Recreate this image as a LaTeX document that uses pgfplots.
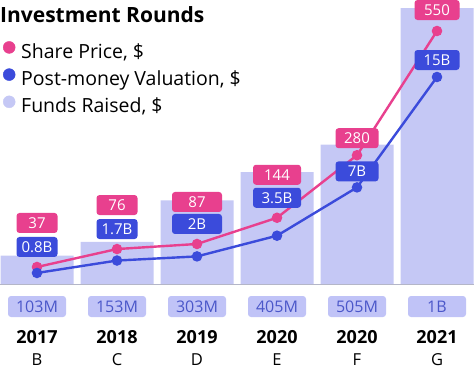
\documentclass[border=0pt]{standalone}
\usepackage{pgfplots}
\pgfplotsset{compat=1.18}
\usepackage{fontspec}
\setmainfont{Open Sans}
\definecolor{pinkc}{HTML}{E8408E}
\definecolor{bluec}{HTML}{3B4BDB}
\definecolor{barc}{HTML}{C5C8F5}
\definecolor{lblbox}{HTML}{C0C3F7}
\definecolor{lbltxt}{HTML}{4B57C9}
\definecolor{basec}{HTML}{B4B6C8}
\tikzset{
  pbox/.style={rounded corners=3pt, fill=pinkc, text=white, inner sep=0pt, minimum height=20pt, text height=10.7pt, text depth=0pt, anchor=center, font=\fontsize{15}{15}\selectfont},
  bbox/.style={pbox, fill=bluec},
  lbox/.style={rounded corners=3pt, fill=lblbox, text=lbltxt, inner sep=0pt, minimum height=21pt, minimum width=58pt, text height=11.4pt, text depth=0pt, anchor=center, font=\fontsize{16}{16}\selectfont},
}
\newcommand{\collabel}[4]{%
  \node[lbox] at ([yshift=-22.5pt]axis cs:#1,0) {#2};
  \node[anchor=base, inner sep=0pt, font=\bfseries\fontsize{18}{18}\selectfont] at ([yshift=-59pt]axis cs:#1,0) {#3};
  \node[anchor=base, inner sep=0pt, font=\fontsize{16.5}{16.5}\selectfont] at ([yshift=-81pt]axis cs:#1,0) {#4};
}
\begin{document}
\begin{tikzpicture}
\pgfplotsset{common/.style={scale only axis, width=474pt, height=284pt, at={(0pt,100pt)}, anchor=south west, xmin=-0.4625, xmax=5.4625, axis lines=none, clip=false}}
% Funds raised (bars)
\begin{axis}[common, ymin=0, ymax=1029,
  legend style={at={(0,0.8556)}, anchor=north west, draw=none, fill=none, inner sep=0pt, row sep=5pt,
    nodes={inner sep=0pt, text height=14pt, text depth=5pt}, font=\fontsize{19.5}{19.5}\selectfont},
  legend cell align=left]
\addplot[ybar, bar width=73pt, fill=barc, draw=none, forget plot] coordinates {(0,103) (1,153) (2,303) (3,405) (4,505) (5,1000)};
\draw[basec, line width=1pt] (axis cs:-0.4625,0) -- (axis cs:5.4625,0);
\addlegendimage{legend image code/.code={\fill[pinkc] (9pt,6.5pt) circle (6pt); \path[draw=none,fill=none] (0pt,0pt) rectangle (21pt,1pt);}}
\addlegendentry{Share Price, \$}
\addlegendimage{legend image code/.code={\fill[bluec] (9pt,6.5pt) circle (6pt); \path[draw=none,fill=none] (0pt,0pt) rectangle (21pt,1pt);}}
\addlegendentry{Post-money Valuation, \$}
\addlegendimage{legend image code/.code={\fill[barc] (9pt,6.5pt) circle (6pt); \path[draw=none,fill=none] (0pt,0pt) rectangle (21pt,1pt);}}
\addlegendentry{Funds Raised, \$}
\collabel{0}{103M}{2017}{B}
\collabel{1}{153M}{2018}{C}
\collabel{2}{303M}{2019}{D}
\collabel{3}{405M}{2020}{E}
\collabel{4}{505M}{2020}{F}
\collabel{5}{1B}{2021}{G}
\end{axis}
% Share price
\begin{axis}[common, ymin=0, ymax=617.4]
\addplot[pinkc, line width=2.4pt, mark=*, mark size=4pt] coordinates {(0,37) (1,76) (2,87) (3,144) (4,280) (5,550)};
\coordinate (s0) at (axis cs:0,37);
\coordinate (s1) at (axis cs:1,76);
\coordinate (s2) at (axis cs:2,87);
\coordinate (s3) at (axis cs:3,144);
\coordinate (s4) at (axis cs:4,280);
\coordinate (s5) at (axis cs:5,550);
\end{axis}
% Post-money valuation
\begin{axis}[common, ymin=0, ymax=20.58]
\addplot[bluec, line width=2.4pt, mark=*, mark size=4pt] coordinates {(0,0.8) (1,1.7) (2,2) (3,3.5) (4,7) (5,15)};
\coordinate (v4) at (axis cs:4,7);
\coordinate (v5) at (axis cs:5,15);
\end{axis}
% value labels
\node[pbox, minimum width=41pt] at ([yshift=44pt]s0) {37};
\node[bbox, minimum width=41pt] at ([yshift=20pt]s0) {0.8B};
\node[pbox, minimum width=41pt] at ([yshift=44pt]s1) {76};
\node[bbox, minimum width=41pt] at ([yshift=20pt]s1) {1.7B};
\node[pbox, minimum width=50pt] at ([yshift=42pt]s2) {87};
\node[bbox, minimum width=50pt] at ([yshift=20pt]s2) {2B};
\node[pbox, minimum width=48pt] at ([yshift=43pt]s3) {144};
\node[bbox, minimum width=48pt] at ([yshift=20pt]s3) {3.5B};
\node[pbox, minimum width=43pt] at ([yshift=17pt]s4) {280};
\node[bbox, minimum width=43pt] at ([yshift=16pt]v4) {7B};
\node[pbox, minimum width=45pt] at ([yshift=21pt]s5) {550};
\node[bbox, minimum width=45pt] at ([yshift=17pt]v5) {15B};
% title
\node[anchor=base west, inner sep=0pt, font=\bfseries\fontsize{21}{21}\selectfont] at (0pt,361pt) {Investment Rounds};
\pgfresetboundingbox
\useasboundingbox (0pt,0pt) rectangle (474pt,384pt);
\end{tikzpicture}
\end{document}
